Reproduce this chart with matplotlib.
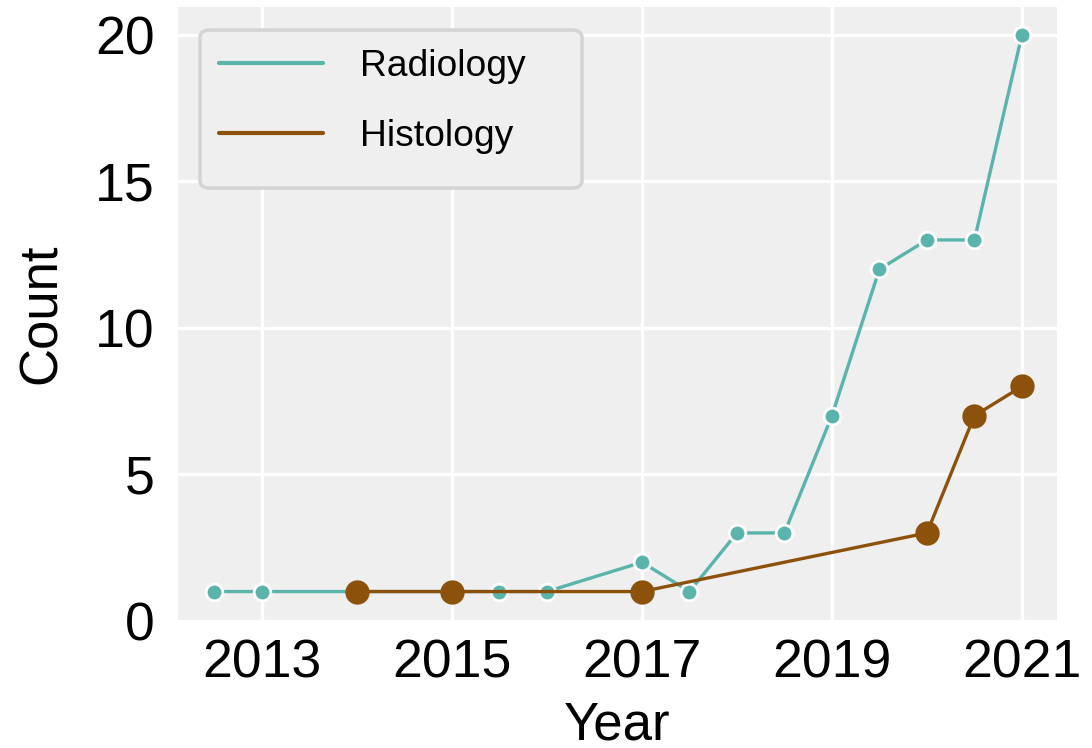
import matplotlib
matplotlib.use("Agg")
import matplotlib.pyplot as plt
from matplotlib.lines import Line2D
from matplotlib.patches import FancyBboxPatch

plt.rcParams['font.family'] = ['Liberation Sans', 'DejaVu Sans']

# Publication counts per year
radiology_years = [2012.5, 2013, 2015.5, 2016, 2017, 2017.5, 2018, 2018.5,
                   2019, 2019.5, 2020, 2020.5, 2021]
radiology_counts = [1, 1, 1, 1, 2, 1, 3, 3, 7, 12, 13, 13, 20]

histology_years = [2014, 2015, 2017, 2020, 2020.5, 2021]
histology_counts = [1, 1, 1, 3, 7, 8]

x_ticks = [2013, 2015, 2017, 2019, 2021]
y_ticks = [0, 5, 10, 15, 20]
series_names = ["Radiology", "Histology"]

teal = "#5ab4ac"
brown = "#8c510a"

fig = plt.figure(figsize=(10.92, 7.48), dpi=100)
ax = fig.add_axes([0.163, 0.170, 0.805, 0.8206])
ax.set_facecolor("#efefef")
for s in ax.spines.values():
    s.set_visible(False)
ax.grid(True, color="white", linewidth=2.4)
ax.set_axisbelow(True)

ax.plot(radiology_years, radiology_counts, color=teal, linewidth=2.4,
        marker="o", markersize=12, markerfacecolor=teal,
        markeredgecolor="white", markeredgewidth=2, zorder=3)
ax.plot(histology_years, histology_counts, color=brown, linewidth=2.4,
        marker="o", markersize=17.5, markerfacecolor=brown,
        markeredgecolor=brown, markeredgewidth=0, zorder=4)

ax.set_xticks(x_ticks)
ax.set_yticks(y_ticks)
ax.set_xlim(2012.116, 2021.37)
ax.set_ylim(0, 20.95)
ax.tick_params(axis="both", length=0, labelsize=38.5)
ax.tick_params(axis="x", pad=13)
ax.tick_params(axis="y", pad=17)
ax.set_xlabel("Year", fontsize=38, labelpad=8)
ax.set_ylabel("Count", fontsize=38, labelpad=20)

# legend frame
frame = FancyBboxPatch((0.025, 0.705), 0.4346, 0.2575,
                       boxstyle="round,pad=0,rounding_size=0.012",
                       transform=ax.transAxes, facecolor="#efefef",
                       edgecolor="#d4d4d4", linewidth=2.5, zorder=5)
ax.add_patch(frame)

handles = [Line2D([], [], color=teal, linewidth=3, solid_capstyle="round"),
           Line2D([], [], color=brown, linewidth=3, solid_capstyle="round")]
leg = ax.legend(handles, series_names, loc="upper left",
                bbox_to_anchor=(0.025, 0.9625), borderaxespad=0,
                borderpad=0.5, frameon=False, fontsize=26.8,
                handlelength=2.8, handletextpad=1.0, labelspacing=0.94)
leg.set_zorder(6)

fig.savefig("out.png", dpi=100)
